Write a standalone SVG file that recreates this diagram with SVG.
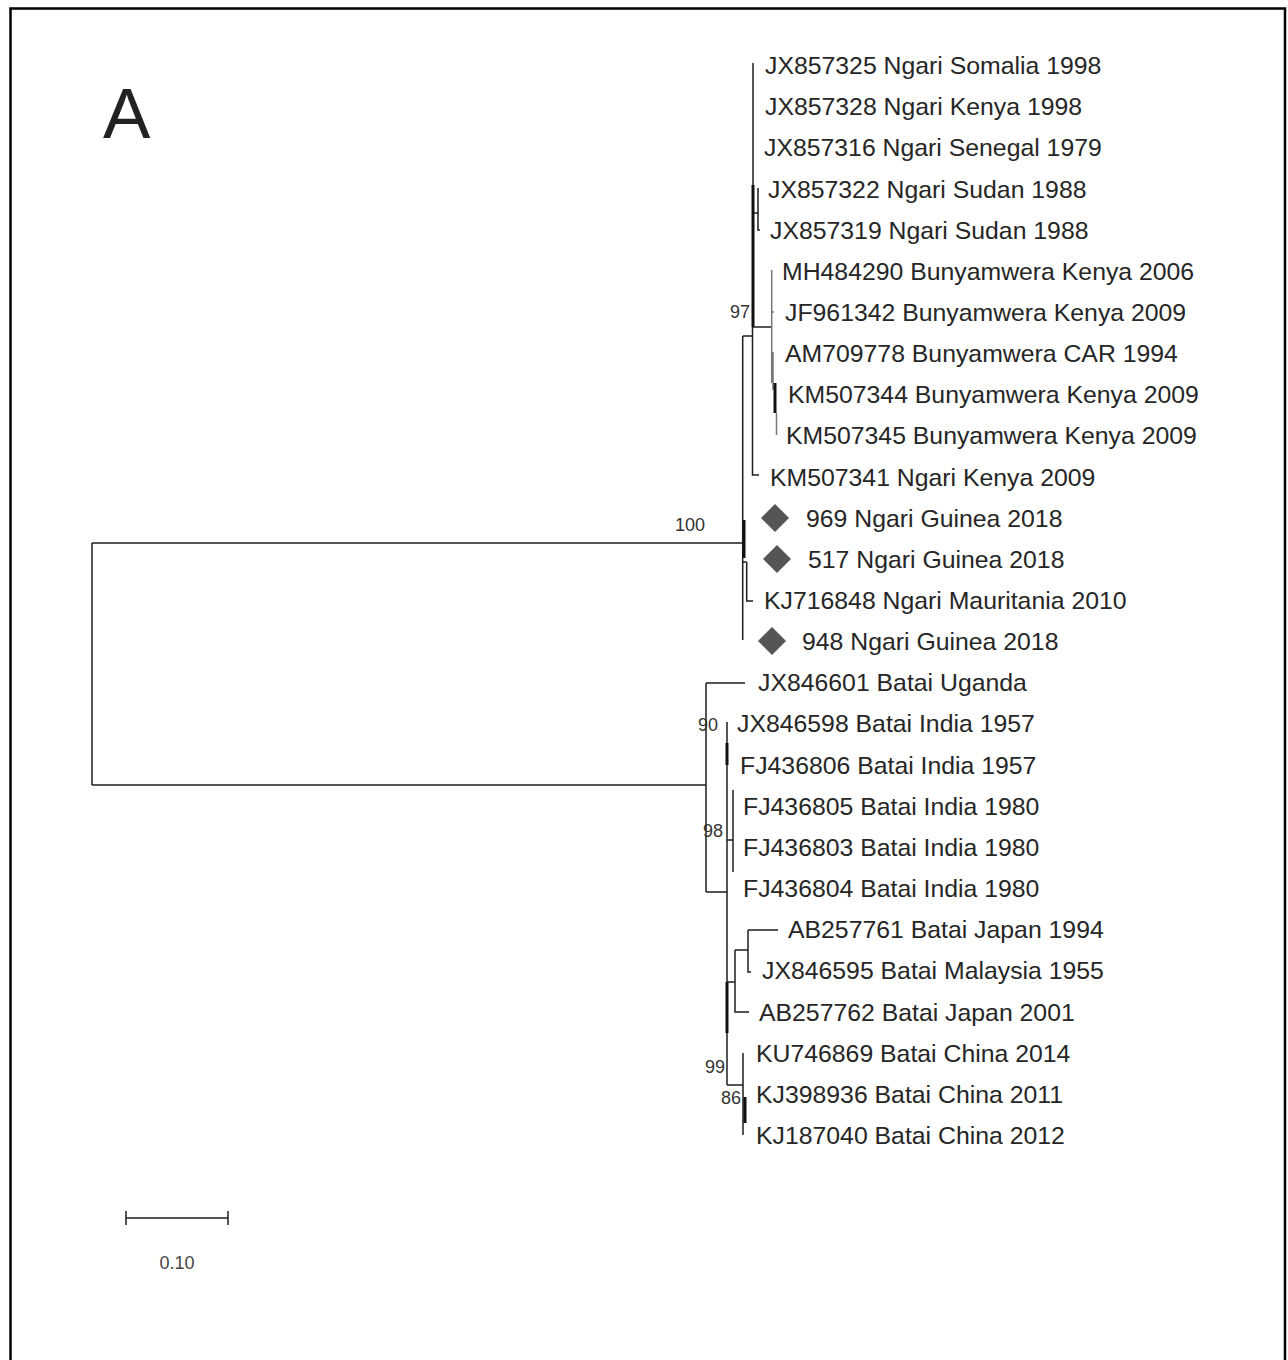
<svg xmlns="http://www.w3.org/2000/svg" width="1288" height="1360" viewBox="0 0 1288 1360">
<style>
.t{font-family:"Liberation Sans",Arial,sans-serif;font-size:24.8px;fill:#262626}
.b{font-family:"Liberation Sans",Arial,sans-serif;font-size:18px;fill:#333;text-anchor:end}
.l{stroke:#1e1e1e;stroke-width:1.5;fill:none}
.k{stroke:#111;stroke-width:3;fill:none}
.g{stroke:#777;stroke-width:1.5;fill:none}
.d{fill:#555}
</style>
<rect width="1288" height="1360" fill="#fff"/>
<polyline points="10.5,1360 10.5,8.5 1285,8.5 1285,1360" fill="none" stroke="#000" stroke-width="2.5"/>
<text x="103" y="138" style="font-family:'Liberation Sans',Arial,sans-serif;font-size:71px;fill:#222">A</text>

<g id="connectors">
<path class="l" d="M92,543 V785 M92,543 H743 M92,785 H706"/>
<path class="l" d="M742.7,336 V640 M742.7,336 H752.5 M752.5,327 V475 H759 M753,63 V327 M753,327 H771.5 M753,213 H758 M758,188 V230 H760 M746.7,562 V601 H753 M742.7,562 H746.7"/>
<path class="k" d="M753,185 V327 M744,520 V558"/>
<path class="g" d="M771.7,270 V383 M771.7,312 H774 M773,352 V390 M776.5,413 V435"/>
<path class="k" d="M775,383 V413"/>
<path class="l" d="M706,683 V892 M706,683 H745 M706,892 H727 M727,722 V1085 M733,790 V872 M727,840 H733 M727,982 H735 M735,950 V1012 H749 M735,950 H748 M748,930 V972 H751 M748,930 H778 M727,1085 H743 M743,1053 V1135"/>
<path class="k" d="M727,743 V765 M727,982 V1033 M745,1097 V1123"/>
</g>

<g id="bootstrap">
<text class="b" x="750" y="318">97</text>
<text class="b" x="705" y="531">100</text>
<text class="b" x="718" y="731">90</text>
<text class="b" x="723" y="837">98</text>
<text class="b" x="725" y="1073">99</text>
<text class="b" x="741" y="1104">86</text>
</g>

<g id="n1"><text class="t" x="765" y="74">JX857325 Ngari Somalia 1998</text></g>
<g id="n2"><text class="t" x="765" y="115">JX857328 Ngari Kenya 1998</text></g>
<g id="n3"><text class="t" x="764" y="156">JX857316 Ngari Senegal 1979</text></g>
<g id="n4"><text class="t" x="768" y="197.5">JX857322 Ngari Sudan 1988</text></g>
<g id="n5"><text class="t" x="770" y="238.6">JX857319 Ngari Sudan 1988</text></g>
<g id="n6"><text class="t" x="782" y="279.8">MH484290 Bunyamwera Kenya 2006</text></g>
<g id="n7"><text class="t" x="785" y="320.9">JF961342 Bunyamwera Kenya 2009</text></g>
<g id="n8"><text class="t" x="785" y="362.1">AM709778 Bunyamwera CAR 1994</text></g>
<g id="n9"><text class="t" x="788" y="403.2">KM507344 Bunyamwera Kenya 2009</text></g>
<g id="n10"><text class="t" x="786" y="444.4">KM507345 Bunyamwera Kenya 2009</text></g>
<g id="n11"><text class="t" x="770" y="485.5">KM507341 Ngari Kenya 2009</text></g>
<g id="n12"><path class="d" d="M775,504 L789,518 L775,532 L761,518 Z"/><text class="t" x="806" y="526.7">969 Ngari Guinea 2018</text></g>
<g id="n13"><path class="d" d="M777,545 L791,559 L777,573 L763,559 Z"/><text class="t" x="808" y="567.8">517 Ngari Guinea 2018</text></g>
<g id="n14"><text class="t" x="764" y="609">KJ716848 Ngari Mauritania 2010</text></g>
<g id="n15"><path class="d" d="M772,627 L786,641 L772,655 L758,641 Z"/><text class="t" x="802" y="650.1">948 Ngari Guinea 2018</text></g>
<g id="n16"><text class="t" x="758" y="691.3">JX846601 Batai Uganda</text></g>
<g id="n17"><text class="t" x="737" y="732.4">JX846598 Batai India 1957</text></g>
<g id="n18"><text class="t" x="740" y="773.6">FJ436806 Batai India 1957</text></g>
<g id="n19"><text class="t" x="743" y="814.7">FJ436805 Batai India 1980</text></g>
<g id="n20"><text class="t" x="743" y="855.9">FJ436803 Batai India 1980</text></g>
<g id="n21"><text class="t" x="743" y="897">FJ436804 Batai India 1980</text></g>
<g id="n22"><text class="t" x="788" y="938.2">AB257761 Batai Japan 1994</text></g>
<g id="n23"><text class="t" x="762" y="979.3">JX846595 Batai Malaysia 1955</text></g>
<g id="n24"><text class="t" x="759" y="1020.5">AB257762 Batai Japan 2001</text></g>
<g id="n25"><text class="t" x="756" y="1061.6">KU746869 Batai China 2014</text></g>
<g id="n26"><text class="t" x="756" y="1102.8">KJ398936 Batai China 2011</text></g>
<g id="n27"><text class="t" x="756" y="1143.9">KJ187040 Batai China 2012</text></g>

<g id="scale">
<path class="l" d="M126,1218 H228 M126,1211 V1225 M228,1211 V1225"/>
<text x="177" y="1269" text-anchor="middle" style="font-family:'Liberation Sans',Arial,sans-serif;font-size:18px;fill:#444">0.10</text>
</g>
</svg>
